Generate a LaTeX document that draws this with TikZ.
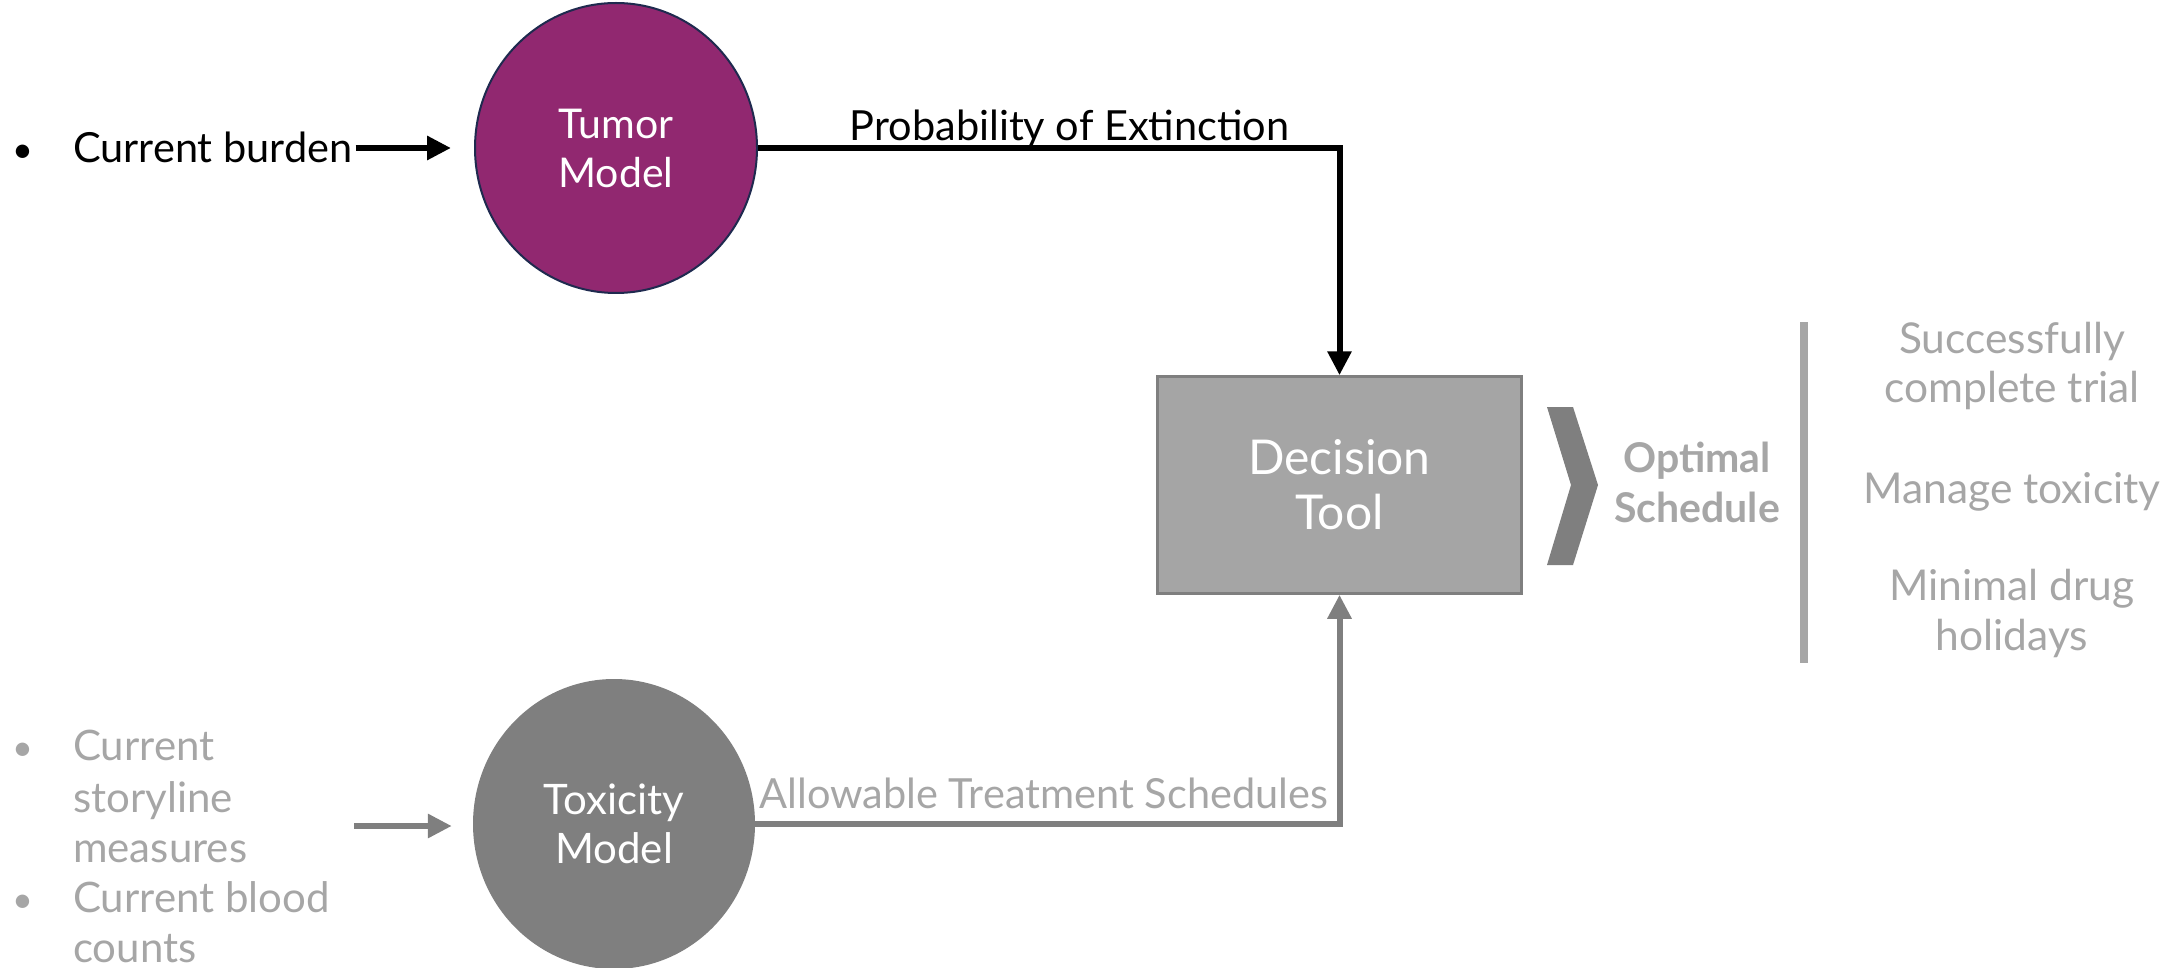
\documentclass[tikz,border=0pt]{standalone}
\usepackage{fontspec}
\setmainfont{Lato}
\usetikzlibrary{arrows.meta,shapes.geometric}
\definecolor{tumorc}{HTML}{912870}
\definecolor{navyc}{HTML}{1F2A4F}
\definecolor{darkg}{HTML}{7F7F7F}
\definecolor{midg}{HTML}{A5A5A5}
\definecolor{lightg}{HTML}{A6A6A6}
\tikzset{
  txt/.style={inner sep=0pt, anchor=base},
  blk/.style={line width=6pt, black, -{Triangle[length=24pt,width=23pt]}},
  gry/.style={line width=6pt, darkg, -{Triangle[length=24pt,width=23pt]}},
  model/.style={ellipse, minimum width=282pt, minimum height=290pt, inner sep=0pt, text=white, align=center},
}
\begin{document}
\begin{tikzpicture}[x=1pt,y=-1pt]
\useasboundingbox (0,0) rectangle (2179,968);
% tumor model
\node[model, fill=tumorc, draw=navyc, line width=2pt, font=\fontsize{41}{49}\selectfont] (tumor) at (616,148) {Tumor\\Model};
% toxicity model
\node[model, fill=darkg, font=\fontsize{42}{49}\selectfont] (tox) at (614,824) {Toxicity\\Model};
% decision tool
\node[rectangle, fill=midg, draw=darkg, line width=2.5pt, minimum width=364pt, minimum height=217pt, text=white, align=center, font=\fontsize{48}{55}\selectfont] (dec) at (1339.5,485) {Decision\\Tool};
% current burden
\node[txt, anchor=base west, font=\fontsize{36}{49}\selectfont] (b1) at (12,163) {\textbullet};
\node[txt, anchor=base west, font=\fontsize{41.5}{49}\selectfont] (burden) at (73,163) {Current burden};
\draw[blk] (burden.east |- tumor.west) ++(3,0) coordinate (bs) -- ([xshift=-23pt]tumor.west);
% probability line
\draw[blk] (tumor.east) -| (dec.north) node[pos=0.268, anchor=base, yshift=7pt, inner sep=0pt, font=\fontsize{41.5}{49}\selectfont] (pe) {Probability of Extinction};
% allowable line
\draw[gry] (tox.east) -| (dec.south) node[pos=0.247, anchor=base, yshift=16pt, inner sep=0pt, text=lightg, font=\fontsize{41.5}{45}\selectfont] (ats) {Allowable Treatment Schedules};
% left gray inputs
\begin{scope}[every node/.style={txt, anchor=base west, text=lightg, font=\fontsize{42}{50}\selectfont}]
\node[font=\fontsize{36}{50}\selectfont] (g1) at (12,760) {\textbullet};
\node (l1) at (73,760) {Current};
\node (l2) at (73,812) {storyline};
\node (l3) at (73,862) {measures};
\node[font=\fontsize{36}{50}\selectfont] (g2) at (12,912) {\textbullet};
\node (l4) at (73,912) {Current blood};
\node (l5) at (73,962) {counts};
\end{scope}
\coordinate (gs) at (354,826);
\draw[gry] (gs) -- ([xshift=-21pt]tox.west |- gs);
% chevron
\fill[darkg] (1547,407) -- (1573,407) -- (1598,485) -- (1573,565) -- (1547,565) -- (1571,485) -- cycle;
% optimal schedule
\node[txt, text=lightg, font=\bfseries\fontsize{41}{50}\selectfont] (os1) at (1697,472) {Optimal};
\node[txt, text=lightg, font=\bfseries\fontsize{41}{50}\selectfont] (os2) at (1697,522) {Schedule};
% vertical bar
\fill[lightg] (1800,322) rectangle (1808,663);
% goals
\begin{scope}[every node/.style={txt, text=lightg, font=\fontsize{42.5}{50}\selectfont}]
\node (r1) at (2012,353) {Successfully};
\node (r2) at (2012,402) {complete trial};
\node (r3) at (2012,503) {Manage toxicity};
\node (r4) at (2012,600) {Minimal drug};
\node (r5) at (2012,650) {holidays};
\end{scope}
\end{tikzpicture}
\end{document}
